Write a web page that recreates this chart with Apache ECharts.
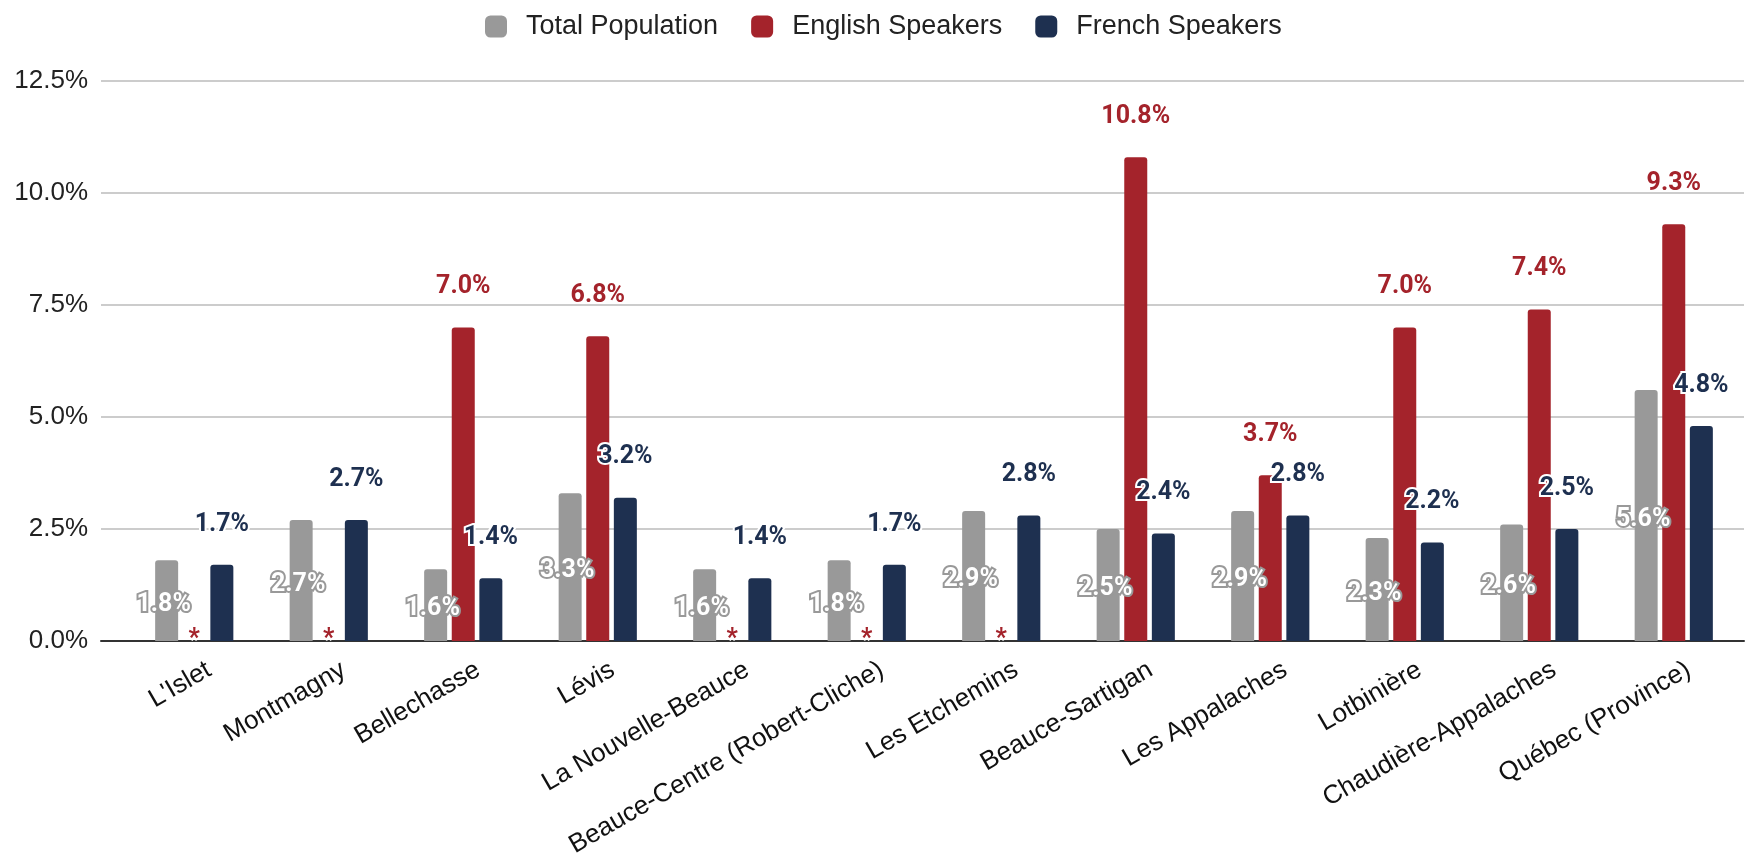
<!DOCTYPE html>
<html>
<head>
<meta charset="utf-8">
<script src="https://cdn.jsdelivr.net/npm/echarts@6/dist/echarts.min.js"></script>
<style>
html,body{margin:0;padding:0;background:#fff;}
#chart{width:1758px;height:860px;}
</style>
</head>
<body>
<div id="chart"></div>
<script>
// ---- data ----
const categories = ["L'Islet", "Montmagny", "Bellechasse", "Lévis", "La Nouvelle-Beauce", "Beauce-Centre (Robert-Cliche)", "Les Etchemins", "Beauce-Sartigan", "Les Appalaches", "Lotbinière", "Chaudière-Appalaches", "Québec (Province)"];
const totalPopulation = [1.8, 2.7, 1.6, 3.3, 1.6, 1.8, 2.9, 2.5, 2.9, 2.3, 2.6, 5.6];
const englishSpeakers = [0, 0, 7.0, 6.8, 0, 0, 0, 10.8, 3.7, 7.0, 7.4, 9.3]; // 0 = suppressed (*)
const frenchSpeakers = [1.7, 2.7, 1.4, 3.2, 1.4, 1.7, 2.8, 2.4, 2.8, 2.2, 2.5, 4.8];
const seriesNames = ["Total Population", "English Speakers", "French Speakers"];
const suppressedMark = "*";
const yMin = 0, yMax = 12.5, yStep = 2.5;

// ---- style ----
const C_GRAY = '#999999', C_RED = '#a4232b', C_NAVY = '#1e3050';
const SANS = '"Liberation Sans", Arial, sans-serif';
const LABEL_FONT = 'Roboto, "Noto Sans", sans-serif';
const G_TOP = 81, G_BOTTOM = 219;
const BAR_LEFT = 127, BAR_RIGHT = 17;
const LBL_DX = 15;

const pct = v => v.toFixed(1) + '%';

const chart = echarts.init(document.getElementById('chart'), null, {renderer: 'canvas'});

const hiddenY = {type: 'value', min: yMin, max: yMax, interval: yStep, show: false, splitLine: {show: false}};

const option = {
  animation: false,
  backgroundColor: '#ffffff',
  legend: {
    left: 480, top: 8,
    icon: 'roundRect',
    itemWidth: 22, itemHeight: 22, itemGap: 33,
    textStyle: {fontFamily: SANS, fontSize: 27, color: '#222', padding: [0, 0, 0, 14]},
    data: seriesNames
  },
  grid: [
    {left: 101, right: 14, top: G_TOP, bottom: G_BOTTOM, containLabel: false},
    {left: BAR_LEFT, right: BAR_RIGHT, top: G_TOP, bottom: G_BOTTOM, containLabel: false},
    {left: BAR_LEFT + LBL_DX, right: BAR_RIGHT - LBL_DX, top: G_TOP, bottom: G_BOTTOM, containLabel: false}
  ],
  xAxis: [
    {gridIndex: 0, type: 'category', data: categories,
     axisLine: {show: true, lineStyle: {color: '#333', width: 2}},
     axisTick: {show: false}, axisLabel: {show: false}, splitLine: {show: false}},
    {gridIndex: 1, type: 'category', data: categories,
     axisLine: {show: false}, axisTick: {show: false}, axisLabel: {show: false}},
    {gridIndex: 2, type: 'category', data: categories,
     axisLine: {show: false}, axisTick: {show: false},
     axisLabel: {show: true, interval: 0, rotate: 30, margin: 28,
       fontFamily: SANS, fontSize: 26, color: '#111'}}
  ],
  yAxis: [
    {gridIndex: 0, type: 'value', min: yMin, max: yMax, interval: yStep,
     axisLine: {show: false}, axisTick: {show: false},
     axisLabel: {formatter: v => v.toFixed(1) + '%', fontFamily: SANS, fontSize: 26, color: '#222', margin: 13},
     splitLine: {show: true, lineStyle: {color: '#cccccc', width: 2}}},
    Object.assign({gridIndex: 1}, hiddenY),
    Object.assign({gridIndex: 2}, hiddenY)
  ],
  series: [
    {
      name: seriesNames[0], type: 'bar', xAxisIndex: 1, yAxisIndex: 1,
      data: totalPopulation,
      barWidth: 23, barGap: '20%',
      itemStyle: {color: C_GRAY, borderRadius: [3, 3, 0, 0]},
      label: {show: true, position: 'inside', offset: [-3, 4], formatter: p => pct(p.value),
        fontFamily: LABEL_FONT, fontWeight: 'bold', fontSize: 25, color: '#ffffff',
        textBorderColor: C_GRAY, textBorderWidth: 4}
    },
    {
      name: seriesNames[1], type: 'bar', xAxisIndex: 1, yAxisIndex: 1,
      data: englishSpeakers.map(v => v === 0
        ? {value: 0, label: {position: 'inside', offset: [0, -1], formatter: suppressedMark}}
        : v),
      barWidth: 23, barGap: '20%',
      itemStyle: {color: C_RED, borderRadius: [3, 3, 0, 0]},
      label: {show: true, position: 'top', distance: 28, formatter: p => pct(p.value),
        fontFamily: LABEL_FONT, fontWeight: 'bold', fontSize: 25, color: C_RED,
        textBorderColor: '#ffffff', textBorderWidth: 4}
    },
    {
      name: seriesNames[2], type: 'bar', xAxisIndex: 1, yAxisIndex: 1,
      data: frenchSpeakers,
      barWidth: 23, barGap: '20%',
      itemStyle: {color: C_NAVY, borderRadius: [3, 3, 0, 0]},
      label: {show: true, position: 'top', distance: 28, formatter: p => pct(p.value),
        fontFamily: LABEL_FONT, fontWeight: 'bold', fontSize: 25, color: C_NAVY,
        textBorderColor: '#ffffff', textBorderWidth: 4}
    }
  ]
};
chart.setOption(option);
</script>
</body>
</html>
